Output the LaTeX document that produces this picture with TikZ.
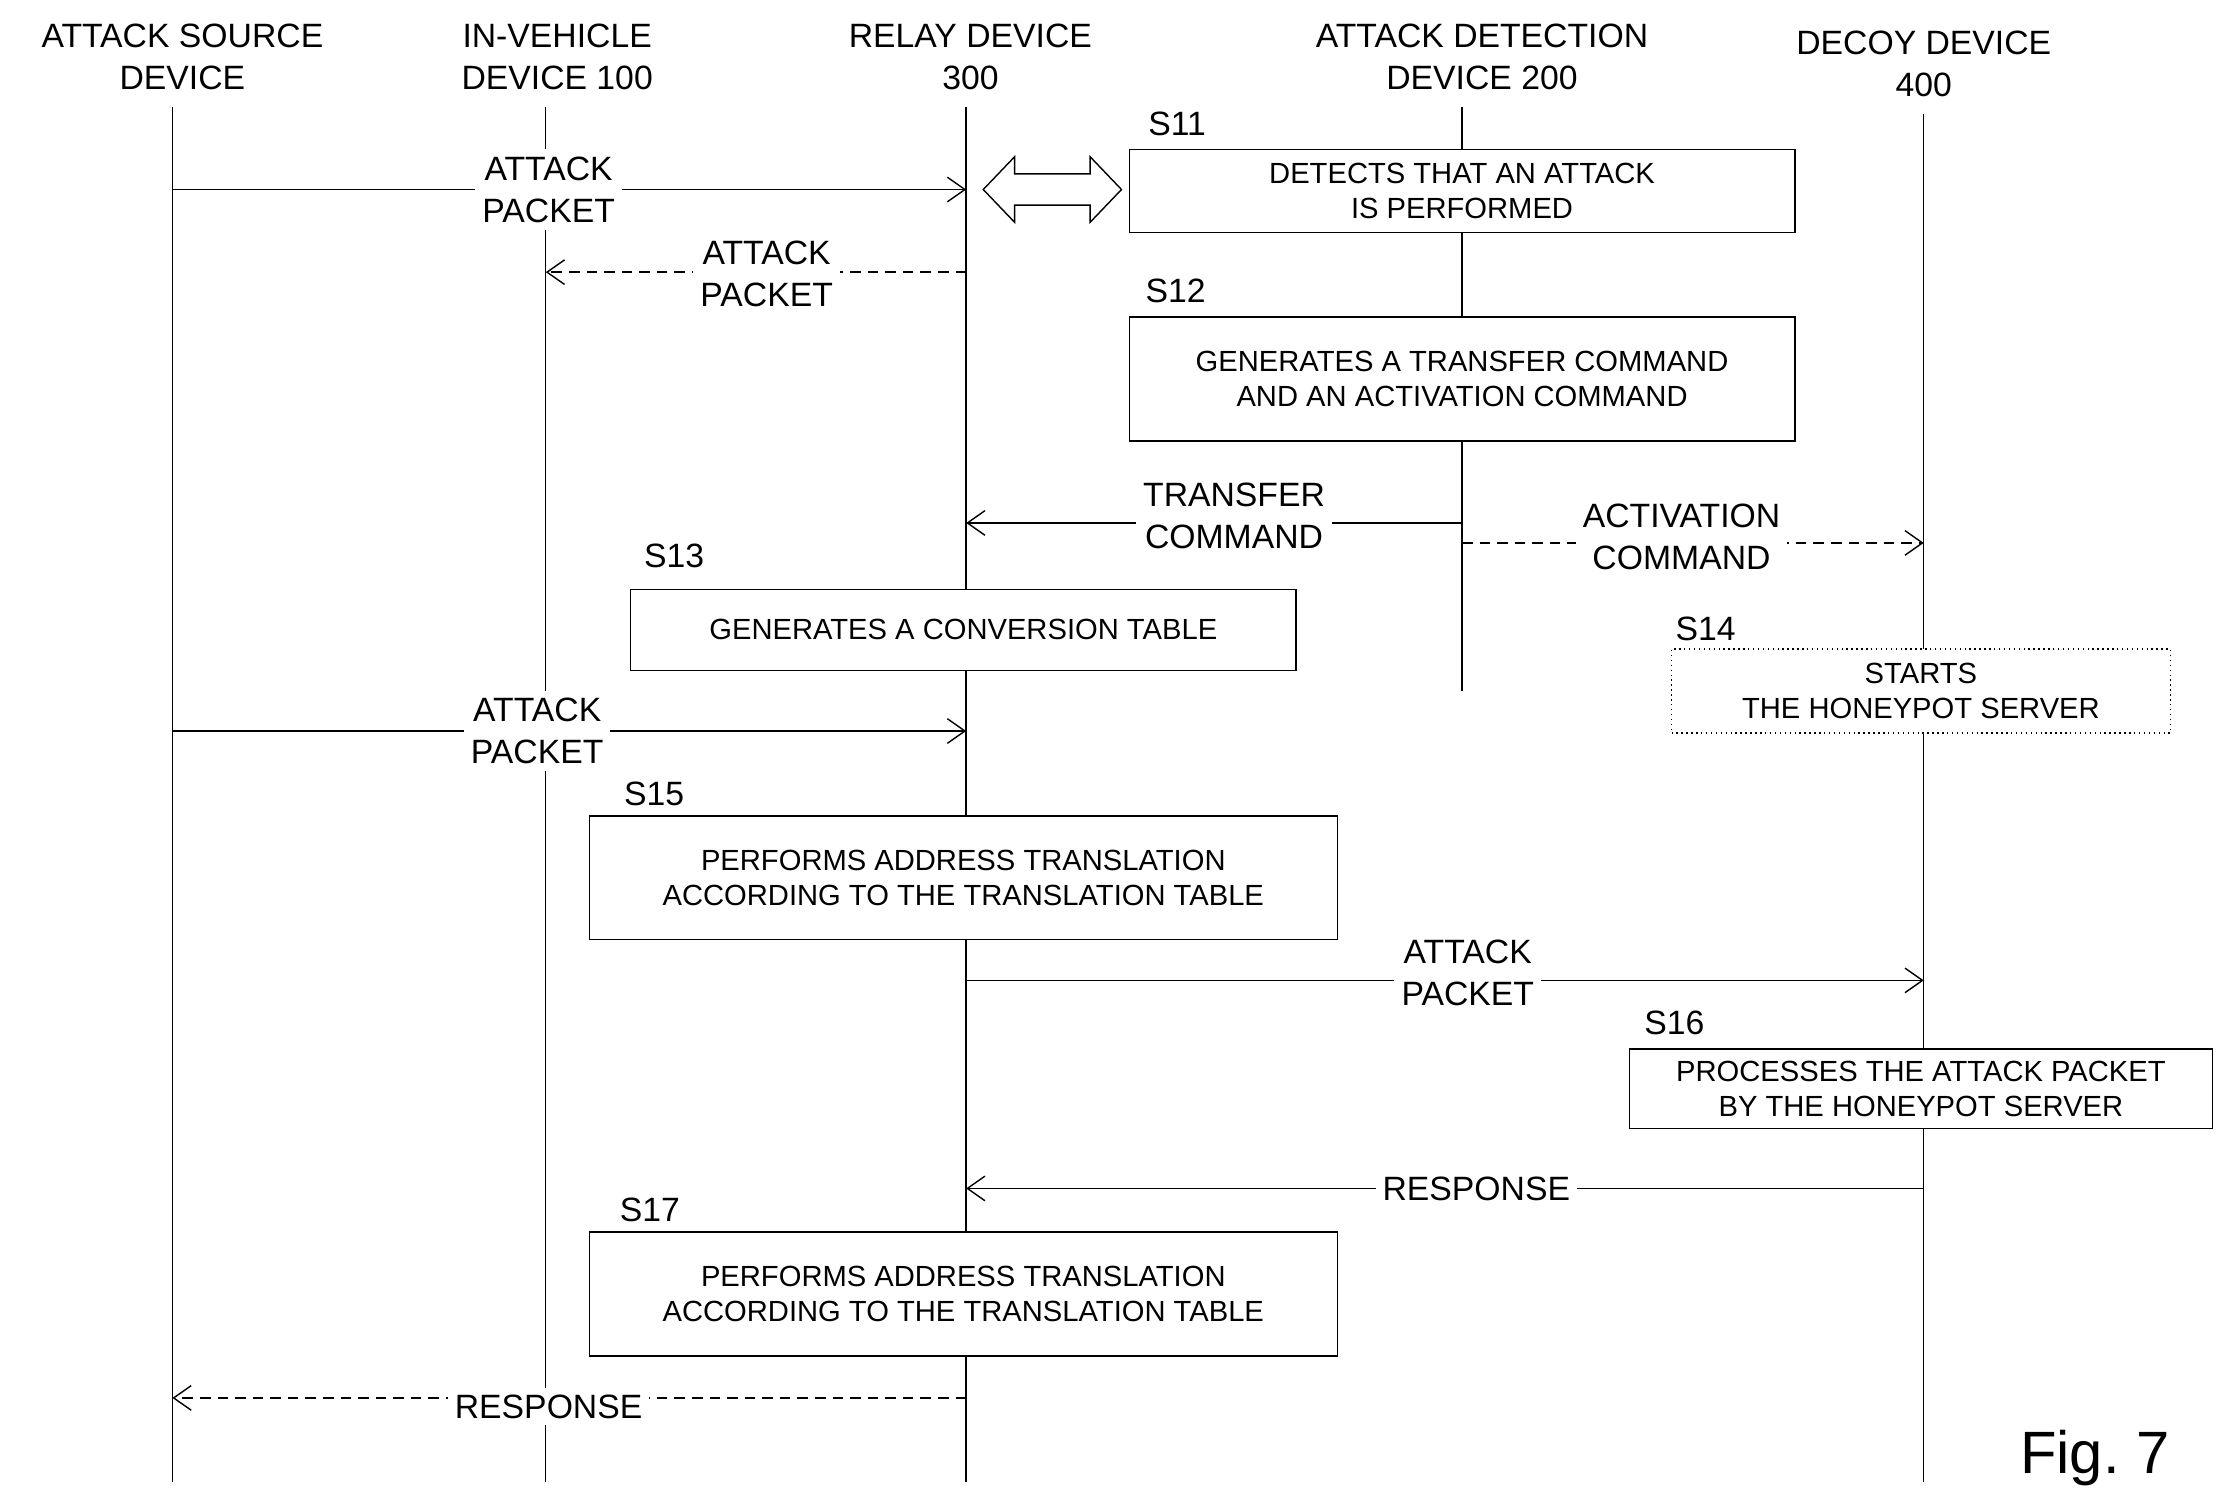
\documentclass[tikz,border=0pt]{standalone}
\usepackage{fontspec}
\setmainfont{Liberation Sans}
\usetikzlibrary{arrows.meta}
\newcommand{\pxu}{0.01425cm}
\begin{document}
\begin{tikzpicture}[x=\pxu,y=-\pxu,
    life/.style={thin},
    msg/.style={thin,-{Straight Barb[length=5pt,width=7pt]}},
    dmsg/.style={msg,densely dashed},
    lbl/.style={fill=white,align=center,font=\fontsize{9.6}{12}\selectfont,inner sep=2pt},
    head/.style={align=center,font=\fontsize{9.6}{12}\selectfont},
    stepbox/.style={draw,thin,fill=white,align=center,font=\fontsize{8.3}{10}\selectfont},
    tag/.style={font=\fontsize{9.6}{11}\selectfont}]
\useasboundingbox (0,0) rectangle (1560,1053);
% lifelines
\foreach \n/\x in {src/121,veh/383,rel/678,det/1026,dec/1350}{
  \coordinate (\n) at (\x,0);
}
\node[head] (hsrc) at (128,40) {ATTACK SOURCE\\DEVICE};
\node[head] (hveh) at (391,40) {IN-VEHICLE\\DEVICE 100};
\node[head] (hrel) at (681,40) {RELAY DEVICE\\300};
\node[head] (hdet) at (1040,40) {ATTACK DETECTION\\DEVICE 200};
\node[head] (hdec) at (1350,45) {DECOY DEVICE\\400};
\draw[life] (121,75) -- (121,1040);
\draw[life] (383,75) -- (383,1040);
\draw[life] (678,75) -- (678,1040);
\draw[life] (1026,75) -- (1026,485);
\draw[life] (1350,80) -- (1350,1040);
% steps
\node[stepbox,minimum width=467*\pxu,minimum height=58*\pxu] (s11) at (1026,134) {DETECTS THAT AN ATTACK\\IS PERFORMED};
\node[tag] at (826,87) {S11};
\node[stepbox,minimum width=467*\pxu,minimum height=87*\pxu] (s12) at (1026,266) {GENERATES A TRANSFER COMMAND\\AND AN ACTIVATION COMMAND};
\node[tag] at (825,204) {S12};
\node[stepbox,minimum width=467*\pxu,minimum height=57*\pxu] (s13) at (676,442) {GENERATES A CONVERSION TABLE};
\node[tag] at (473,390) {S13};
\node[stepbox,densely dotted,minimum width=350*\pxu,minimum height=59*\pxu] (s14) at (1348,485) {STARTS\\THE HONEYPOT SERVER};
\node[tag] at (1197,441) {S14};
\node[stepbox,minimum width=525*\pxu,minimum height=87*\pxu] (s15) at (676,616) {PERFORMS ADDRESS TRANSLATION\\ACCORDING TO THE TRANSLATION TABLE};
\node[tag] at (459,557) {S15};
\node[stepbox,minimum width=409*\pxu,minimum height=56*\pxu] (s16) at (1348,764) {PROCESSES THE ATTACK PACKET\\BY THE HONEYPOT SERVER};
\node[tag] at (1175,718) {S16};
\node[stepbox,minimum width=525*\pxu,minimum height=87*\pxu] (s17) at (676,908) {PERFORMS ADDRESS TRANSLATION\\ACCORDING TO THE TRANSLATION TABLE};
\node[tag] at (456,849) {S17};
% hollow double arrow
\draw[thin] (690,133) -- (712,110) -- (712,122) -- (765,122) -- (765,110) -- (787,133)
  -- (765,156) -- (765,144) -- (712,144) -- (712,156) -- cycle;
% messages
\draw[msg] (src |- 0,133) -- (rel |- 0,133);
\node[lbl] (m1) at (385,133) {ATTACK\\PACKET};
\draw[dmsg] (rel |- 0,191) -- (veh |- 0,191);
\node[lbl] (m2) at (538,192) {ATTACK\\PACKET};
\draw[msg] (det |- 0,367) -- (rel |- 0,367);
\node[lbl] (m3) at (866,362) {TRANSFER\\COMMAND};
\draw[dmsg] (det |- 0,381) -- (dec |- 0,381);
\node[lbl] (m4) at (1180,377) {ACTIVATION\\COMMAND};
\draw[msg] (src |- 0,513) -- (rel |- 0,513);
\node[lbl] (m5) at (377,513) {ATTACK\\PACKET};
\draw[msg] (rel |- 0,688) -- (dec |- 0,688);
\node[lbl] (m6) at (1030,683) {ATTACK\\PACKET};
\draw[msg] (dec |- 0,834) -- (rel |- 0,834);
\node[lbl] (m7) at (1036,834) {RESPONSE};
\draw[dmsg] (rel |- 0,981) -- (src |- 0,981);
\node[lbl] (m8) at (385,987) {RESPONSE};
\node[font=\fontsize{17}{20}\selectfont] (fig) at (1470,1023) {Fig.\ 7};
\end{tikzpicture}
\end{document}
